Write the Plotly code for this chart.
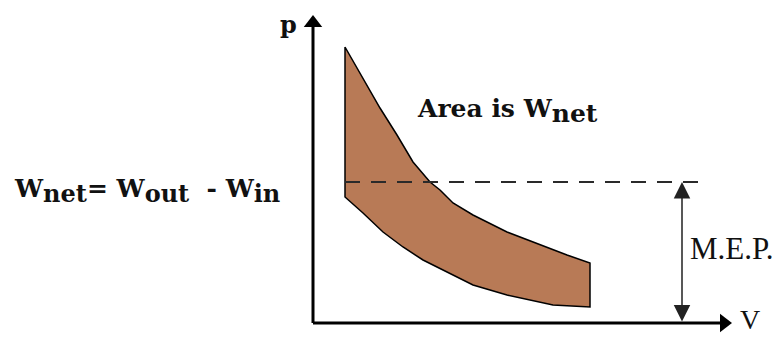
import plotly.graph_objects as go

# Expansion (upper) curve of the cycle, V and p in arbitrary units
V_upper = [3.2, 5.0, 6.7, 8.4, 10.0, 11.7, 12.7, 14.0, 16.0, 19.4, 22.7, 25.4, 27.7]
p_upper = [27.6, 24.5, 21.5, 18.8, 16.1, 14.1, 13.3, 12.0, 10.8, 9.1, 7.8, 6.8, 6.0]
# Compression (lower) curve
V_lower = [3.2, 5.0, 7.0, 9.0, 11.0, 13.0, 16.0, 19.4, 24.0, 27.7]
p_lower = [12.6, 11.0, 9.1, 7.6, 6.3, 5.3, 3.8, 2.8, 1.8, 1.6]
# Mean effective pressure
MEP = 14.1
V_mep_end = 38.7
V_mep_arrow = 36.9
# Axis extents
V_axis_max = 41.9
p_axis_max = 30.8

FILL = "#B87A56"
SERIF = "Liberation Serif"
SLAB = "DejaVu Serif"

fig = go.Figure()

# closed cycle area
xs = V_upper + V_lower[::-1] + [V_upper[0]]
ys = p_upper + p_lower[::-1] + [p_upper[0]]
fig.add_trace(go.Scatter(x=xs, y=ys, mode="lines", fill="toself",
                         fillcolor=FILL, line=dict(color="black", width=1.5),
                         hoverinfo="skip"))

# MEP dashed line
fig.add_trace(go.Scatter(x=[V_upper[0], V_mep_end], y=[MEP, MEP], mode="lines",
                         line=dict(color="#2a2a2a", width=2.2, dash="15px,11px"),
                         hoverinfo="skip"))

# axes lines
fig.add_trace(go.Scatter(x=[0, 0], y=[0, p_axis_max - 1.2], mode="lines",
                         line=dict(color="black", width=3), hoverinfo="skip"))
fig.add_trace(go.Scatter(x=[0, V_axis_max - 1.2], y=[0, 0], mode="lines",
                         line=dict(color="black", width=3), hoverinfo="skip"))
# axes arrow heads
fig.add_trace(go.Scatter(x=[0], y=[p_axis_max - 0.8], mode="markers",
                         marker=dict(symbol="triangle-up", size=16, color="black"),
                         hoverinfo="skip"))
fig.add_trace(go.Scatter(x=[V_axis_max - 0.8], y=[0], mode="markers",
                         marker=dict(symbol="triangle-right", size=16, color="black"),
                         hoverinfo="skip"))

# MEP double arrow
fig.add_annotation(x=V_mep_arrow, y=MEP, ax=V_mep_arrow, ay=0,
                   xref="x", yref="y", axref="x", ayref="y",
                   showarrow=True, arrowhead=2, arrowside="end+start",
                   arrowsize=2.2, arrowwidth=1.5, arrowcolor="#222222", text="")

fig.add_annotation(x=V_mep_arrow + 0.6, y=7.5, text="M.E.P.", showarrow=False,
                   xanchor="left", yanchor="middle",
                   font=dict(family=SERIF, size=31, color="#111111"))

fig.add_annotation(x=V_axis_max + 0.6, y=0.4, text="V", showarrow=False,
                   xanchor="left", yanchor="middle",
                   font=dict(family=SERIF, size=28, color="#111111"))

fig.add_annotation(x=-1.4, y=29.9, text="<b>p</b>", showarrow=False,
                   xanchor="right", yanchor="middle",
                   font=dict(family=SLAB, size=24, color="#111111"))

fig.add_annotation(x=10.2, y=21.2,
                   text="<b>Area is W<sub><span style='font-size:25px'>net</span></sub></b>",
                   showarrow=False, xanchor="left", yanchor="middle",
                   font=dict(family=SLAB, size=25, color="#111111"))

fig.add_annotation(x=-30.1, y=13.2,
                   text="<b>W<sub><span style='font-size:24px'>net</span></sub>= W<sub><span style='font-size:24px'>out</span></sub>  - W<sub><span style='font-size:24px'>in</span></sub></b>",
                   showarrow=False, xanchor="left", yanchor="middle",
                   font=dict(family=SLAB, size=25, color="#111111"))

# the page body adds an 8px offset, so the figure covers pixels 8..781 x 8..338
fig.update_layout(
    width=773, height=330,
    margin=dict(l=0, r=0, t=0, b=0),
    paper_bgcolor="white", plot_bgcolor="white",
    showlegend=False,
    xaxis=dict(range=[-30.5, 46.8], visible=False, fixedrange=True),
    yaxis=dict(range=[-1.5, 31.5], visible=False, fixedrange=True),
)

fig.write_html("out.html")
